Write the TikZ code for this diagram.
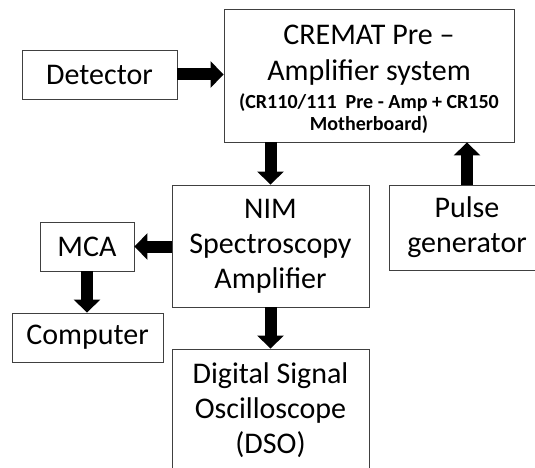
\documentclass[tikz,border=0pt]{standalone}
\usepackage{fontspec}
\setmainfont{Carlito}
\usepackage{tikz}
\usetikzlibrary{positioning,arrows.meta,calc}
\newcommand{\notefont}{\fontsize{20}{22}\selectfont\bfseries}
\tikzset{
  blockbox/.style={draw=black!75, line width=0.9pt, align=center, inner sep=0pt,
    font=\fontsize{30}{35}\selectfont, fill=white},
  bigarrow/.style={-{Triangle[width=26pt,length=13pt]}, line width=12pt},
}

\begin{document}
\begin{tikzpicture}[x=1pt, y=-1pt]
  \useasboundingbox (0,0) rectangle (535,468);
  % blocks
  \node[blockbox, minimum width=155pt, minimum height=49pt] (det) at (99.5,74.5) {Detector};
  \node[blockbox, minimum width=290pt, minimum height=133pt] (cremat) at (369,75.5)
    {\rule{0pt}{27pt}CREMAT Pre --\\[1pt]Amplifier system\\[-7pt]{\notefont (CR110/111\ \ Pre - Amp + CR150}\\[-13pt]{\notefont Motherboard)}};
  \node[blockbox, minimum width=197pt, minimum height=122pt] (nim) at (270.5,246) {NIM\\Spectroscopy\\Amplifier};
  \node[blockbox, minimum width=156pt, minimum height=85pt] (pulse) at (467,227.5) {Pulse\\generator};
  \node[blockbox, minimum width=94pt, minimum height=49pt] (mca) at (87,246.5) {MCA};
  \node[blockbox, minimum width=151pt, minimum height=49pt] (comp) at (87.5,337.5) {Computer};
  \node[blockbox, minimum width=197pt, minimum height=123pt] (dso) at (270.5,410.5) {Digital Signal\\Oscilloscope\\(DSO)};
  % arrows
  \draw[bigarrow] (det.east) -- (det.east -| cremat.west);
  \draw[bigarrow] (nim.north |- cremat.south) -- (nim.north);
  \draw[bigarrow] (pulse.north) -- (pulse.north |- cremat.south);
  \draw[bigarrow] (nim.west |- mca.east) -- (mca.east);
  \draw[bigarrow] (mca.south) -- (mca.south |- comp.north);
  \draw[bigarrow] (nim.south) -- (dso.north);
\end{tikzpicture}
\end{document}
